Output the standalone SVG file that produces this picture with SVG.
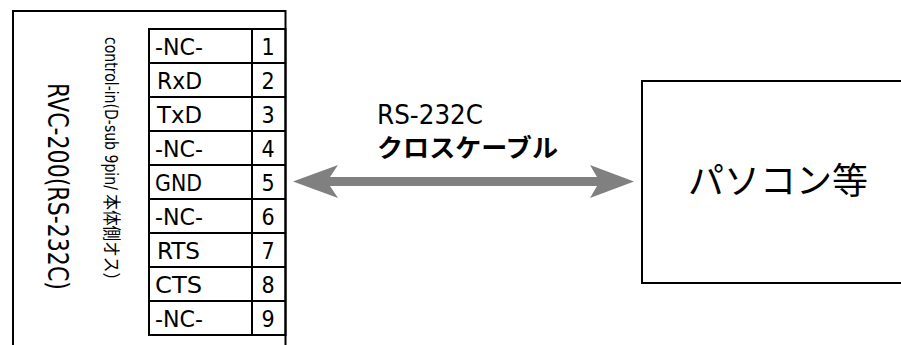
<svg xmlns="http://www.w3.org/2000/svg" width="901" height="345" viewBox="0 0 901 345">
<style>
.ln{fill:none;stroke:#000;stroke-width:2}
.t{font-family:"DejaVu Sans Condensed","DejaVu Sans","Noto Sans CJK JP",sans-serif;font-stretch:condensed;fill:#000}
.cell{font-size:23px}
.num{font-size:23px;text-anchor:middle}
.jp{font-family:"Noto Sans CJK JP","Liberation Sans",sans-serif;fill:#000}
</style>
<rect width="901" height="345" fill="#fff"/>
<g id="rvc200">
<path class="ln" d="M13,345 V11 H285.5 V345"/>
<text class="t" transform="translate(48,83) rotate(90)" font-size="28" textLength="207" lengthAdjust="spacingAndGlyphs">RVC-200(RS-232C)</text>
<text class="t" transform="translate(105,37) rotate(90)" font-size="18" textLength="251" lengthAdjust="spacingAndGlyphs">control-in(D-sub 9pin/ 本体側オス）</text>
</g>
<g id="pin-table">
<rect class="ln" x="149" y="29" width="136.5" height="306"/>
<path class="ln" d="M252,29 V335 M149,63 H285 M149,97 H285 M149,131 H285 M149,165 H285 M149,199 H285 M149,233 H285 M149,267 H285 M149,301 H285"/>
<text class="t cell" x="155" y="55" textLength="48" lengthAdjust="spacingAndGlyphs">-NC-</text>
<text class="t cell" x="157" y="89" textLength="45" lengthAdjust="spacingAndGlyphs">RxD</text>
<text class="t cell" x="157" y="123" textLength="45" lengthAdjust="spacingAndGlyphs">TxD</text>
<text class="t cell" x="155" y="157" textLength="48" lengthAdjust="spacingAndGlyphs">-NC-</text>
<text class="t cell" x="155" y="191" textLength="47" lengthAdjust="spacingAndGlyphs">GND</text>
<text class="t cell" x="155" y="225" textLength="48" lengthAdjust="spacingAndGlyphs">-NC-</text>
<text class="t cell" x="157" y="259" textLength="43" lengthAdjust="spacingAndGlyphs">RTS</text>
<text class="t cell" x="155" y="293" textLength="47" lengthAdjust="spacingAndGlyphs">CTS</text>
<text class="t cell" x="155" y="327" textLength="48" lengthAdjust="spacingAndGlyphs">-NC-</text>
<text class="t num" x="268" y="55">1</text>
<text class="t num" x="268" y="89">2</text>
<text class="t num" x="268" y="123">3</text>
<text class="t num" x="268" y="157">4</text>
<text class="t num" x="268" y="191">5</text>
<text class="t num" x="268" y="225">6</text>
<text class="t num" x="268" y="259">7</text>
<text class="t num" x="268" y="293">8</text>
<text class="t num" x="268" y="327">9</text>
</g>
<g id="pc">
<rect class="ln" x="642" y="81" width="270" height="202"/>
<text class="jp" x="688" y="194" font-size="36" textLength="180" lengthAdjust="spacingAndGlyphs">パソコン等</text>
</g>
<g id="connectors">
<polygon fill="#808080" points="293,181.5 338,165 330,177 597,177 590,165 634,181.5 590,198 597,186 330,186 338,198"/>
<text class="t" x="377" y="124" font-size="27" textLength="106" lengthAdjust="spacingAndGlyphs">RS-232C</text>
<text class="jp" x="377" y="157" font-size="25" font-weight="bold" textLength="181" lengthAdjust="spacingAndGlyphs">クロスケーブル</text>
</g>
</svg>
